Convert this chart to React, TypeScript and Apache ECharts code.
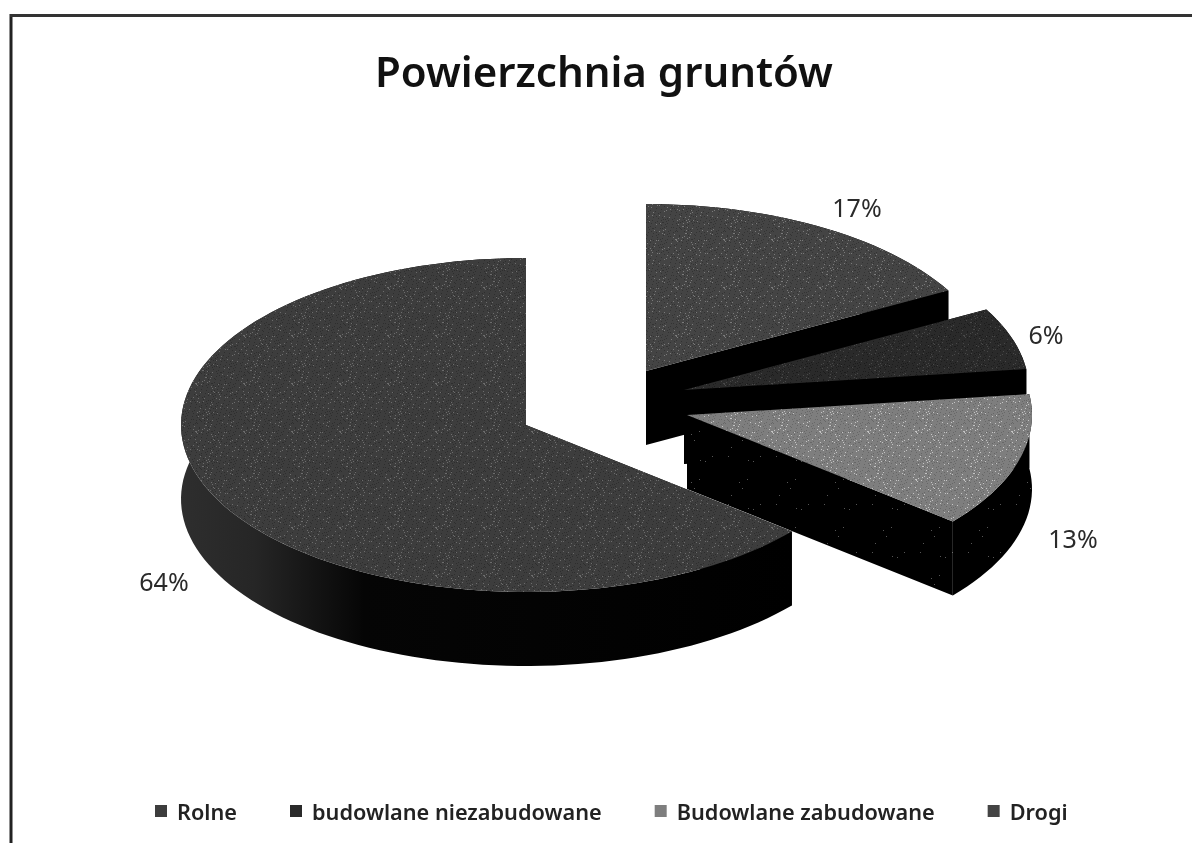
import React, { useEffect, useRef } from "react";
import * as echarts from "echarts";

const titleText = "Powierzchnia gruntów";
const legendOrder = ["Rolne", "budowlane niezabudowane", "Budowlane zabudowane", "Drogi"];
// Slices clockwise from 12 o'clock
const sliceNames = ["Drogi", "budowlane niezabudowane", "Budowlane zabudowane", "Rolne"];
const sliceValues = [17, 6, 13, 64];
const baseColors = ["#444444", "#2a2a2a", "#7e7e7e", "#3d3d3d"];
const speckLight = ["#7a7a7a", "#484848", "#c4c4c4", "#6c6c6c"];
const speckDark = ["#333333", "#1c1c1c", "#676767", "#2e2e2e"];

// Layout of the exploded ellipse pieces
const centers = [[646, 371], [684, 390], [687, 415], [526, 425]];
const labelPos = [[857, 207], [1046, 334], [1073, 538], [164, 581]];
const RX = 345;
const RY = 167;
const DEPTH = 74;

function speckleTile(base: string, light: string, dark: string, count: number) {
  const size = 48;
  const c = document.createElement("canvas");
  c.width = size;
  c.height = size;
  const g = c.getContext("2d")!;
  g.fillStyle = base;
  g.fillRect(0, 0, size, size);
  let h = 12345;
  for (let i = 0; i < count; i++) {
    h = (h * 1103515245 + 12345) & 0x7fffffff;
    const x = (h >> 8) % size;
    h = (h * 1103515245 + 12345) & 0x7fffffff;
    const y = (h >> 8) % size;
    g.fillStyle = i % 3 === 0 ? light : dark;
    g.fillRect(x, y, 1, 1);
  }
  return c;
}

function arcPts(cx: number, cy: number, a0: number, a1: number) {
  const pts: number[][] = [];
  const n = Math.max(8, Math.ceil((a1 - a0) / 2));
  for (let i = 0; i <= n; i++) {
    const a = ((a0 + ((a1 - a0) * i) / n) * Math.PI) / 180;
    pts.push([cx + RX * Math.sin(a), cy - RY * Math.cos(a)]);
  }
  return pts;
}

export default function App() {
  const ref = useRef<HTMLDivElement>(null);
  useEffect(() => {
    document.body.style.margin = "0";
    const chart = echarts.init(ref.current!, undefined, { renderer: "svg" });
    const total = sliceValues.reduce((a, b) => a + b, 0);
    const patterns = baseColors.map((b, i) => ({
      image: speckleTile(b, speckLight[i], speckDark[i], 700),
      repeat: "repeat",
    }));
    const wallPattern = { image: speckleTile("#000000", "#555555", "#000000", 30), repeat: "repeat" };
    const series = sliceNames.map((name, idx) => ({
      type: "custom",
      name,
      coordinateSystem: "none",
      silent: true,
      z: 2 + idx,
      itemStyle: { color: baseColors[idx] },
      data: [[sliceValues[idx]]],
      renderItem: (_p: any, api: any) => {
        const v = api.value(0);
        const before = sliceValues.slice(0, idx).reduce((a, b) => a + b, 0);
        const a0 = (before / total) * 360;
        const a1 = a0 + (v / total) * 360;
        const [cx, cy] = centers[idx];
        const arc = arcPts(cx, cy, a0, a1);
        const shift = (p: number[]) => [p[0], p[1] + DEPTH];
        const first = arc[0];
        const last = arc[arc.length - 1];
        const wallFill = idx === 3
          ? {
              type: "linear", x: 0, y: 0, x2: 1, y2: 0,
              colorStops: [
                { offset: 0, color: "#2e2e2e" },
                { offset: 0.12, color: "#262626" },
                { offset: 0.3, color: "#050505" },
                { offset: 1, color: "#000000" },
              ],
            }
          : idx === 2 ? wallPattern : "#000000";
        const quad = (a: number[], b: number[]) => ({
          type: "polygon",
          shape: { points: [a, b, shift(b), shift(a)] },
          style: { fill: idx === 2 ? wallPattern : "#000000" },
        });
        return {
          type: "group",
          children: [
            quad([cx, cy], first),
            quad([cx, cy], last),
            {
              type: "polygon",
              shape: { points: [...arc, ...arc.map(shift).reverse()] },
              style: { fill: wallFill },
            },
            {
              type: "polygon",
              shape: { points: [[cx, cy], ...arc] },
              style: { fill: patterns[idx] },
            },
            {
              type: "text",
              style: {
                text: `${Math.round((v / total) * 100)}%`,
                x: labelPos[idx][0],
                y: labelPos[idx][1],
                align: "center",
                verticalAlign: "middle",
                fill: "#2a2a2a",
                font: '25px "Noto Sans"',
              },
            },
          ],
        };
      },
    }));
    chart.setOption({
      animation: false,
      backgroundColor: "#ffffff",
      title: {
        text: titleText,
        left: 599,
        top: 44,
        textAlign: "center",
        textStyle: { fontFamily: "Noto Sans", fontSize: 42, fontWeight: 600, color: "#111111" },
      },
      legend: {
        data: legendOrder,
        left: 150,
        top: 795,
        icon: "rect",
        itemWidth: 12,
        itemHeight: 12,
        itemGap: 53,
        selectedMode: false,
        textStyle: {
          fontFamily: "Noto Sans",
          fontSize: 21.7,
          fontWeight: 600,
          color: "#222222",
          padding: [0, 0, 0, 5],
        },
      },
      graphic: [
        { type: "line", shape: { x1: 11, y1: 14, x2: 11, y2: 843 }, style: { stroke: "#222222", lineWidth: 3 } },
        { type: "line", shape: { x1: 10, y1: 15.5, x2: 1192, y2: 15.5 }, style: { stroke: "#333333", lineWidth: 3 } },
      ],
      series,
    });
    return () => chart.dispose();
  }, []);
  return <div ref={ref} style={{ position: "fixed", left: 0, top: 0, width: 1192, height: 843, filter: "blur(0.6px)" }} />;
}
